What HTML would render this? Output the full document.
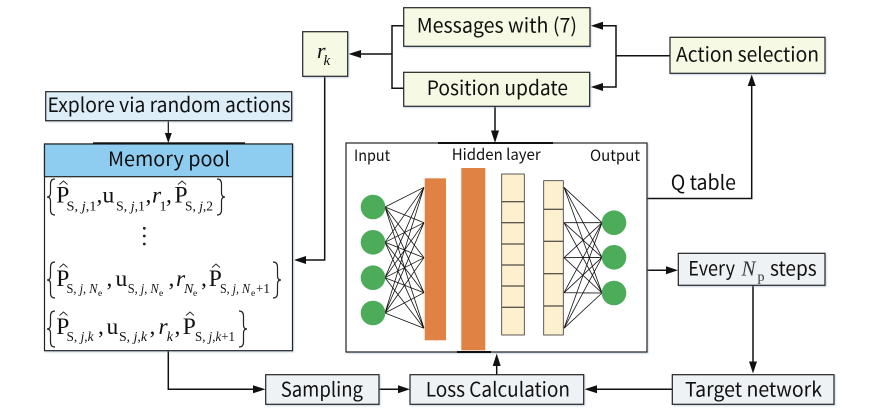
<!DOCTYPE html>
<html><head><meta charset="utf-8">
<style>
html,body{margin:0;padding:0;background:#fff}
svg{display:block}
.t{font-family:"Noto Sans CJK SC","Liberation Sans",sans-serif;font-size:20px;fill:#111}
.h{font-family:"Noto Sans CJK SC","Liberation Sans",sans-serif;font-size:15.5px;fill:#111}
.m{font-family:"Liberation Serif",serif;font-size:23.5px;fill:#111}
.s{font-family:"Liberation Serif",serif;font-size:14px;fill:#111}
.e{font-family:"Liberation Serif",serif;font-size:9.5px;fill:#111}
.i{font-style:italic}
.b{stroke:#222;stroke-width:1.2}
.l{fill:none;stroke:#111;stroke-width:1.5}
.n{fill:none;stroke:#111;stroke-width:.8}
.br{fill:none;stroke:#222;stroke-width:1.2}
.hat{fill:none;stroke:#222;stroke-width:.9}
</style></head><body>
<svg width="890" height="420" viewBox="0 0 890 420" xmlns="http://www.w3.org/2000/svg">
<defs><filter id="sh" x="-5%" y="-10%" width="110%" height="125%"><feDropShadow dx="0.8" dy="1" stdDeviation="0.8" flood-color="#7f9bb5" flood-opacity=".45"/></filter></defs>
<rect width="890" height="420" fill="#fff"/>

<!-- connectors -->
<g class="l">
<path d="M404 25.7H392V88.3H404M392 54H358"/>
<path d="M324.7 76V260H304"/>
<path d="M495 106V132"/>
<path d="M670 55.7H616M601 25.7H616V87H601"/>
<path d="M647 198.5H751.7V85"/>
<path d="M647 270.3H668"/>
<path d="M753 285V362"/>
<path d="M672 389.3H595"/>
<path d="M496.7 374.7V365"/>
<path d="M379 389.3H400"/>
<path d="M168.3 350.7V389.3H255"/>
<path d="M168.3 121V133" stroke-width="1.2"/>
</g>
<g fill="#111">
<polygon points="348.5,54 361,50 361,58"/>
<polygon points="294,260 306,256 306,264"/>
<polygon points="495,143 491,130.5 499,130.5"/>
<polygon points="590.7,25.7 603,21.7 603,29.7"/>
<polygon points="590.7,87 603,83 603,91"/>
<polygon points="751.7,74.5 747.7,86 755.7,86"/>
<polygon points="678,270.3 666,266.3 666,274.3"/>
<polygon points="753,373.5 749,361.5 757,361.5"/>
<polygon points="584.5,389.3 597,385.3 597,393.3"/>
<polygon points="496.7,353.5 492.7,366 500.7,366"/>
<polygon points="410,389.3 398,385.3 398,393.3"/>
<polygon points="265.5,389.3 253,385.3 253,393.3"/>
<polygon points="168.3,143 164.8,133 171.8,133"/>
</g>

<!-- boxes -->
<g class="b" filter="url(#sh)">
<rect x="45.7" y="91.7" width="246" height="29" fill="#DEEEF8"/>
<rect x="44.5" y="144" width="248" height="206.7" fill="#fff"/>
<rect x="44.5" y="144" width="248" height="32.7" fill="#8ECDF0"/>
<rect x="302.7" y="31.7" width="45" height="44.6" fill="#F6F9E3"/>
<rect x="403.7" y="7.7" width="186.3" height="38.6" fill="#F6F9E3"/>
<rect x="403.7" y="72.3" width="186" height="34" fill="#F6F9E3"/>
<rect x="670" y="37.3" width="155" height="36" fill="#F6F9E3"/>
<rect x="346" y="143" width="301" height="209" fill="#fff"/>
<rect x="678.3" y="253.3" width="146.7" height="32" fill="#EEF2F5"/>
<rect x="265.7" y="374.7" width="113.3" height="29.6" fill="#EEF2F5"/>
<rect x="410" y="374.7" width="173.7" height="29.6" fill="#EEF2F5"/>
<rect x="672.3" y="374.7" width="161.7" height="29.6" fill="#EEF2F5"/>
</g>
<g fill="#111">
<rect x="93" y="142.3" width="152" height="1.8"/>
<rect x="438" y="142" width="115" height="2"/>
<rect x="457" y="351" width="34" height="2"/>
</g>

<!-- network -->
<path class="n" d="M385 207L424 187.3M385 207L424 222.7M385 207L424 257.7M385 207L424 292.7M385 207L424 328.3
M385 242.3L424 187.3M385 242.3L424 222.7M385 242.3L424 257.7M385 242.3L424 292.7M385 242.3L424 328.3
M385 277.7L424 187.3M385 277.7L424 222.7M385 277.7L424 257.7M385 277.7L424 292.7M385 277.7L424 328.3
M385 313L424 187.3M385 313L424 222.7M385 313L424 257.7M385 313L424 292.7M385 313L424 328.3
M564 187.3L602 222.7M564 187.3L602 257.3M564 187.3L602 293
M564 222.7L602 222.7M564 222.7L602 257.3M564 222.7L602 293
M564 257.7L602 222.7M564 257.7L602 257.3M564 257.7L602 293
M564 292.7L602 222.7M564 292.7L602 257.3M564 292.7L602 293
M564 328.3L602 222.7M564 328.3L602 257.3M564 328.3L602 293"/>
<g fill="#4CAC5A">
<circle cx="373" cy="207" r="12.3"/><circle cx="373" cy="242.3" r="12.3"/><circle cx="373" cy="277.7" r="12.3"/><circle cx="373" cy="313" r="12.3"/>
<circle cx="614" cy="222.7" r="12.3"/><circle cx="614" cy="257.3" r="12.3"/><circle cx="614" cy="293" r="12.3"/>
</g>
<rect x="424.7" y="178.3" width="21.3" height="162" fill="#E08244"/>
<rect x="461.3" y="168" width="24" height="182.3" fill="#E08244"/>
<rect x="501.7" y="174" width="22.6" height="161" fill="#FCF0CF" stroke="#333" stroke-width=".8"/>
<path d="M501.7 201.7H524.3M501.7 222.7H524.3M501.7 244H524.3M501.7 265H524.3M501.7 286H524.3M501.7 307.3H524.3" stroke="#222" stroke-width="1" fill="none"/>
<rect x="543.7" y="180.7" width="19.6" height="154.3" fill="#FCF0CF" stroke="#333" stroke-width=".8"/>
<path d="M543.7 209.3H563.3M543.7 241.3H563.3M543.7 273.7H563.3M543.7 306H563.3" stroke="#222" stroke-width="1" fill="none"/>

<!-- labels -->
<text class="t" x="47.5" y="112" textLength="243" lengthAdjust="spacingAndGlyphs">Explore via random actions</text>
<text class="t" x="108" y="166" textLength="122" lengthAdjust="spacingAndGlyphs">Memory pool</text>
<text class="t" x="416.7" y="32.7" textLength="160.3" lengthAdjust="spacingAndGlyphs">Messages with (7)</text>
<text class="t" x="426.7" y="95" textLength="141.3" lengthAdjust="spacingAndGlyphs">Position update</text>
<text class="t" x="676" y="61.7" textLength="143" lengthAdjust="spacingAndGlyphs">Action selection</text>
<text class="h" x="354" y="161" textLength="36" lengthAdjust="spacingAndGlyphs">Input</text>
<text class="h" x="451.7" y="160" textLength="89" lengthAdjust="spacingAndGlyphs">Hidden layer</text>
<text class="h" x="590" y="161" textLength="50" lengthAdjust="spacingAndGlyphs">Output</text>
<text class="t" x="670.7" y="189.3" textLength="65.3" lengthAdjust="spacingAndGlyphs">Q table</text>
<text class="t" x="688.3" y="275.3" textLength="46.7" lengthAdjust="spacingAndGlyphs">Every</text>
<text class="m i" x="741.5" y="275.3" style="font-size:21px;fill:#333">N</text>
<text class="s" x="757.5" y="281" style="fill:#333">p</text>
<text class="t" x="770" y="275.3" textLength="46.7" lengthAdjust="spacingAndGlyphs">steps</text>
<text class="t" x="280.7" y="396.3" textLength="82.3" lengthAdjust="spacingAndGlyphs">Sampling</text>
<text class="t" x="425.7" y="396.3" textLength="144.3" lengthAdjust="spacingAndGlyphs">Loss Calculation</text>
<text class="t" x="685" y="396.3" textLength="137" lengthAdjust="spacingAndGlyphs">Target network</text>
<text class="m i" x="317" y="58" style="font-size:22px">r</text>
<text class="s i" x="323.5" y="65" style="font-size:15px">k</text>

<!-- formula row 1 -->
<path class="br" d="M55 179Q50.5 179 50.5 184V193Q50.5 197 47 197Q50.5 197 50.5 201V210Q50.5 215 55 215"/>
<text class="m" x="56.2" y="202.7">P</text><path class="hat" d="M59.5 184.5L63.5 181L67.5 184.5"/>
<text class="s" x="66.5" y="210.7" textLength="30" lengthAdjust="spacingAndGlyphs">S, <tspan class="i">j</tspan>,1</text>
<text class="m" x="96.5" y="202.7">,</text>
<text class="m" x="102.5" y="202.7">u</text>
<text class="s" x="116" y="210.7" textLength="29" lengthAdjust="spacingAndGlyphs">S, <tspan class="i">j</tspan>,1</text>
<text class="m" x="145.5" y="202.7">,</text>
<text class="m i" x="152" y="202.7">r</text>
<text class="s" x="159.5" y="210.7">1</text>
<text class="m" x="166" y="202.7">,</text>
<text class="m" x="174.5" y="202.7">P</text><path class="hat" d="M178 184.5L182 181L186 184.5"/>
<text class="s" x="185" y="210.7" textLength="28" lengthAdjust="spacingAndGlyphs">S, <tspan class="i">j</tspan>,2</text>
<path class="br" d="M217 179Q221.5 179 221.5 184V193Q221.5 197 225 197Q221.5 197 221.5 201V210Q221.5 215 217 215"/>

<!-- dots -->
<g fill="#222"><circle cx="144.3" cy="228.3" r="1.4"/><circle cx="144.3" cy="236" r="1.4"/><circle cx="144.3" cy="244" r="1.4"/></g>

<!-- formula row 3 -->
<path class="br" d="M55 262Q50.5 262 50.5 267V276Q50.5 280 47 280Q50.5 280 50.5 284V293Q50.5 298 55 298"/>
<text class="m" x="56.2" y="286">P</text><path class="hat" d="M59.5 267.5L63.5 264L67.5 267.5"/>
<text class="s" x="66.5" y="293" textLength="31" lengthAdjust="spacingAndGlyphs">S, <tspan class="i">j</tspan>, <tspan class="i">N</tspan></text>
<text class="e" x="98" y="296">e</text>
<text class="m" x="106.5" y="286">,</text>
<text class="m" x="115.5" y="286">u</text>
<text class="s" x="127.7" y="293" textLength="31" lengthAdjust="spacingAndGlyphs">S, <tspan class="i">j</tspan>, <tspan class="i">N</tspan></text>
<text class="e" x="159" y="296">e</text>
<text class="m" x="168.5" y="286">,</text>
<text class="m i" x="176" y="286">r</text>
<text class="s i" x="184" y="293">N</text>
<text class="e" x="193" y="296">e</text>
<text class="m" x="201" y="286">,</text>
<text class="m" x="208.8" y="286">P</text><path class="hat" d="M212 267.5L216 264L220 267.5"/>
<text class="s" x="220" y="293" textLength="30" lengthAdjust="spacingAndGlyphs">S, <tspan class="i">j</tspan>, <tspan class="i">N</tspan></text>
<text class="e" x="251" y="296">e</text>
<text class="s" x="256" y="293" textLength="14" lengthAdjust="spacingAndGlyphs">+1</text>
<path class="br" d="M273 262Q277.5 262 277.5 267V276Q277.5 280 281 280Q277.5 280 277.5 284V293Q277.5 298 273 298"/>

<!-- formula row 4 -->
<path class="br" d="M55 311Q50.5 311 50.5 316V325Q50.5 329 47 329Q50.5 329 50.5 333V342Q50.5 347 55 347"/>
<text class="m" x="56.2" y="334">P</text><path class="hat" d="M59.5 315.5L63.5 312L67.5 315.5"/>
<text class="s" x="66.5" y="341" textLength="27" lengthAdjust="spacingAndGlyphs">S, <tspan class="i">j</tspan>,<tspan class="i">k</tspan></text>
<text class="m" x="98" y="334">,</text>
<text class="m" x="106.5" y="334">u</text>
<text class="s" x="119" y="341" textLength="28" lengthAdjust="spacingAndGlyphs">S, <tspan class="i">j</tspan>,<tspan class="i">k</tspan></text>
<text class="m" x="149.5" y="334">,</text>
<text class="m i" x="158.5" y="334">r</text>
<text class="s i" x="166.7" y="341">k</text>
<text class="m" x="174.5" y="334">,</text>
<text class="m" x="182.8" y="334">P</text><path class="hat" d="M186 315.5L190 312L194 315.5"/>
<text class="s" x="195" y="341" textLength="40" lengthAdjust="spacingAndGlyphs">S, <tspan class="i">j</tspan>,<tspan class="i">k</tspan>+1</text>
<path class="br" d="M239 311Q243.5 311 243.5 316V325Q243.5 329 247 329Q243.5 329 243.5 333V342Q243.5 347 239 347"/>
</svg>
</body></html>
